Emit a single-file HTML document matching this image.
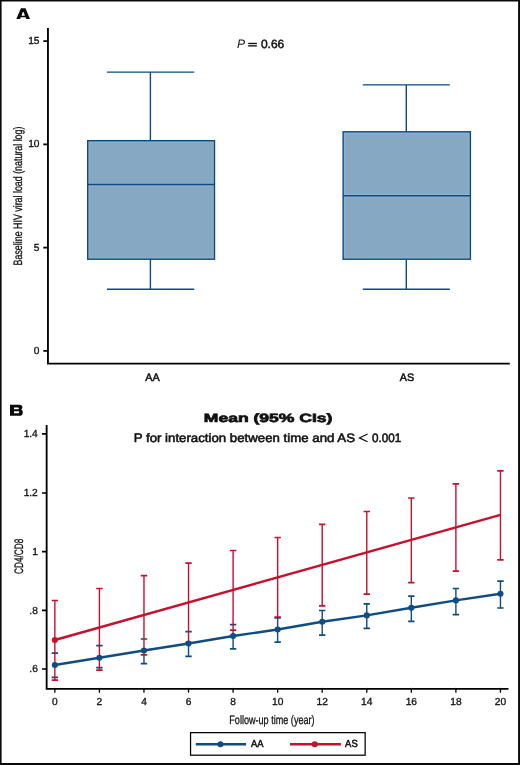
<!DOCTYPE html>
<html><head><meta charset="utf-8"><style>
html,body{margin:0;padding:0;background:#fff;}
body{width:520px;height:765px;overflow:hidden;}
svg{display:block;}
text{filter:grayscale(1);font-family:"Liberation Sans",sans-serif;fill:#111;text-rendering:geometricPrecision;}
.tk{font-size:10.2px;stroke:#111;stroke-width:0.32px;}
.sw{stroke:#111;stroke-width:0.3px;}
.hd{font-weight:bold;}
</style></head><body>
<svg width="520" height="765" viewBox="0 0 520 765">
<rect x="0" y="0" width="520" height="765" fill="#fff"/>
<path fill="#0a0a0a" fill-rule="evenodd" d="M0 0 H520 V765 H0 Z M1.6 1.55 H518.1 V763.1 H1.6 Z"/>
<!-- Panel A -->
<path fill="#0a0a0a" fill-rule="evenodd" d="M16.3 19 L20.9 8.3 L25.5 8.3 L30 19 L26.3 19 L25.6 17.2 L20.8 17.2 L20.1 19 Z M21.5 15.8 L24.9 15.8 L23.6 12.1 L22.8 12.1 Z"/>
<g stroke="#000" stroke-width="1.6" fill="none">
<path d="M47.95 28.1 V364.5 M47.05 363.65 H509.8" stroke-width="1.85"/>
<path d="M43.3 41.1 H47.8 M43.3 144.3 H47.8 M43.3 247.55 H47.8 M43.3 350.8 H47.8" stroke-width="1.7"/>
</g>
<g class="tk" text-anchor="end">
<text transform="translate(39.5,44.1)" class="tk">15</text>
<text transform="translate(39.5,147.35)" class="tk">10</text>
<text transform="translate(39.5,250.6)" class="tk">5</text>
<text transform="translate(39.5,353.9)" class="tk">0</text>
</g>
<text transform="translate(21.95,265.4) rotate(-90)" class="sw" font-size="12.3" textLength="138.8" lengthAdjust="spacingAndGlyphs">Baseline HIV viral load (natural log)</text>
<text x="152.5" y="381" text-anchor="middle" font-size="10.8" style="stroke:#111;stroke-width:0.5px">AA</text>
<text x="407" y="381" text-anchor="middle" font-size="10.8" style="stroke:#111;stroke-width:0.5px">AS</text>
<text x="237" y="48.4" font-size="12.2" font-style="italic">P</text>
<rect x="248.2" y="42.8" width="8.7" height="1.35" fill="#111"/><rect x="248.2" y="45.2" width="8.7" height="1.35" fill="#111"/>
<text x="260.9" y="48.3" font-size="12" style="stroke:#111;stroke-width:0.5px" textLength="23.4" lengthAdjust="spacingAndGlyphs">0.66</text>
<!-- boxes -->
<rect x="87.7" y="140.7" width="126.80" height="118.50" fill="#87a8c3"/>
<rect x="88.90" y="141.90" width="124.40" height="116.10" fill="none" stroke="#9ab5cb" stroke-width="0.9"/>
<path d="M88.7 183.30 H213.5 M88.7 185.70 H213.5" stroke="#9ab5cb" stroke-width="0.9" fill="none"/>
<g stroke="#0c4a83" stroke-width="1.4" fill="none">
<rect x="87.7" y="140.7" width="126.80" height="118.50"/>
<path d="M87.7 184.5 H214.5"/>
<path d="M150.4 72.15 V140.7 M106.9 72.15 H194.2 M150.4 259.2 V289.2 M106.9 289.2 H194.2"/>
</g>
<rect x="343.1" y="131.8" width="127.30" height="127.40" fill="#87a8c3"/>
<rect x="344.30" y="133.00" width="124.90" height="125.00" fill="none" stroke="#9ab5cb" stroke-width="0.9"/>
<path d="M344.1 194.50 H469.4 M344.1 196.90 H469.4" stroke="#9ab5cb" stroke-width="0.9" fill="none"/>
<g stroke="#0c4a83" stroke-width="1.4" fill="none">
<rect x="343.1" y="131.8" width="127.30" height="127.40"/>
<path d="M343.1 195.7 H470.4"/>
<path d="M406.3 84.85 V131.8 M362.8 84.85 H449.8 M406.3 259.2 V289.2 M362.8 289.2 H449.8"/>
</g>
<!-- Panel B -->
<path fill="#0a0a0a" fill-rule="evenodd" d="M10 404.8 H19.3 C21.4 404.8 22.4 405.9 22.4 407.3 C22.4 408.5 21.7 409.3 20.9 409.6 C22.1 409.9 22.8 411 22.8 412.4 C22.8 414.5 21.6 415.8 19.4 415.8 H10 Z M14 407.5 H17.9 C18.5 407.5 18.8 407.9 18.8 408.4 C18.8 408.9 18.5 409.3 17.9 409.3 H14 Z M14 411.2 H18.2 C18.9 411.2 19.2 411.6 19.2 412.2 C19.2 412.8 18.9 413.3 18.2 413.3 H14 Z"/>
<text x="203.8" y="421.8" font-size="12" font-weight="bold" style="stroke:#111;stroke-width:0.7px" textLength="128.6" lengthAdjust="spacingAndGlyphs">Mean (95% CIs)</text>
<text x="133.7" y="442.3" font-size="12.2" style="stroke:#111;stroke-width:0.55px" textLength="221.3" lengthAdjust="spacingAndGlyphs">P for interaction between time and AS</text>
<path d="M367.6 434 L359.4 437.9 L367.6 441.8" fill="none" stroke="#111" stroke-width="1.2"/>
<text x="372" y="442.3" font-size="12.2" style="stroke:#111;stroke-width:0.55px" textLength="29.2" lengthAdjust="spacingAndGlyphs">0.001</text>
<g stroke="#000" stroke-width="1.6" fill="none">
<path d="M46.65 425.1 V689.8 M45.75 688.85 H508.5" stroke-width="1.85"/>
<path d="M42 433.8 H46.5 M42 493.0 H46.5 M42 551.6 H46.5 M42 610.3 H46.5 M42 669.0 H46.5" stroke-width="1.7"/>
</g>
<g text-anchor="end">
<text transform="translate(37.8,437.05)" class="tk">1.4</text>
<text transform="translate(37.8,496.35)" class="tk">1.2</text>
<text transform="translate(37.8,554.95)" class="tk">1</text>
<text transform="translate(37.8,613.65)" class="tk">.8</text>
<text transform="translate(37.8,672.35)" class="tk">.6</text>
</g>
<text transform="translate(22.6,574) rotate(-90)" class="sw" font-size="12.3" textLength="35.3" lengthAdjust="spacingAndGlyphs">CD4/CD8</text>
<line x1="54.85" y1="688.5" x2="54.85" y2="692.2" stroke="#000" stroke-width="1.3" stroke-linecap="round"/>
<text transform="translate(54.85,705.2)" text-anchor="middle" class="tk">0</text>
<line x1="99.41" y1="688.5" x2="99.41" y2="692.2" stroke="#000" stroke-width="1.3" stroke-linecap="round"/>
<text transform="translate(99.41,705.2)" text-anchor="middle" class="tk">2</text>
<line x1="143.97" y1="688.5" x2="143.97" y2="692.2" stroke="#000" stroke-width="1.3" stroke-linecap="round"/>
<text transform="translate(143.97,705.2)" text-anchor="middle" class="tk">4</text>
<line x1="188.53" y1="688.5" x2="188.53" y2="692.2" stroke="#000" stroke-width="1.3" stroke-linecap="round"/>
<text transform="translate(188.53,705.2)" text-anchor="middle" class="tk">6</text>
<line x1="233.09" y1="688.5" x2="233.09" y2="692.2" stroke="#000" stroke-width="1.3" stroke-linecap="round"/>
<text transform="translate(233.09,705.2)" text-anchor="middle" class="tk">8</text>
<line x1="277.65" y1="688.5" x2="277.65" y2="692.2" stroke="#000" stroke-width="1.3" stroke-linecap="round"/>
<text transform="translate(277.65,705.2)" text-anchor="middle" class="tk">10</text>
<line x1="322.21" y1="688.5" x2="322.21" y2="692.2" stroke="#000" stroke-width="1.3" stroke-linecap="round"/>
<text transform="translate(322.21,705.2)" text-anchor="middle" class="tk">12</text>
<line x1="366.77" y1="688.5" x2="366.77" y2="692.2" stroke="#000" stroke-width="1.3" stroke-linecap="round"/>
<text transform="translate(366.77,705.2)" text-anchor="middle" class="tk">14</text>
<line x1="411.33" y1="688.5" x2="411.33" y2="692.2" stroke="#000" stroke-width="1.3" stroke-linecap="round"/>
<text transform="translate(411.33,705.2)" text-anchor="middle" class="tk">16</text>
<line x1="455.89" y1="688.5" x2="455.89" y2="692.2" stroke="#000" stroke-width="1.3" stroke-linecap="round"/>
<text transform="translate(455.89,705.2)" text-anchor="middle" class="tk">18</text>
<line x1="500.45" y1="688.5" x2="500.45" y2="692.2" stroke="#000" stroke-width="1.3" stroke-linecap="round"/>
<text transform="translate(500.45,705.2)" text-anchor="middle" class="tk">20</text>
<text x="229.3" y="723.8" class="sw" font-size="12.2" textLength="85.3" lengthAdjust="spacingAndGlyphs">Follow-up time (year)</text>
<path d="M51.65 653.2 H58.05 M51.65 677.3 H58.05" stroke="#0f4c81" stroke-width="1.7" fill="none"/>
<path d="M96.21 645.6 H102.61 M96.21 667.6 H102.61" stroke="#0f4c81" stroke-width="1.7" fill="none"/>
<path d="M143.97 654.8 V663.7 " stroke="#0f4c81" stroke-width="1.4" fill="none"/>
<path d="M140.77 639 H147.17 M140.77 663.7 H147.17" stroke="#0f4c81" stroke-width="1.7" fill="none"/>
<path d="M188.53 642.5 V656.3 " stroke="#0f4c81" stroke-width="1.4" fill="none"/>
<path d="M185.33 631.7 H191.73 M185.33 656.3 H191.73" stroke="#0f4c81" stroke-width="1.7" fill="none"/>
<path d="M233.09 630.2 V648.9 " stroke="#0f4c81" stroke-width="1.4" fill="none"/>
<path d="M229.89 624.6 H236.29 M229.89 648.9 H236.29" stroke="#0f4c81" stroke-width="1.7" fill="none"/>
<path d="M277.65 617.8 V642.1 " stroke="#0f4c81" stroke-width="1.4" fill="none"/>
<path d="M274.45 617.8 H280.85 M274.45 642.1 H280.85" stroke="#0f4c81" stroke-width="1.7" fill="none"/>
<path d="M322.21 610.5 V635.1 " stroke="#0f4c81" stroke-width="1.4" fill="none"/>
<path d="M319.01 610.5 H325.41 M319.01 635.1 H325.41" stroke="#0f4c81" stroke-width="1.7" fill="none"/>
<path d="M366.77 603.8 V628.4 " stroke="#0f4c81" stroke-width="1.4" fill="none"/>
<path d="M363.57 603.8 H369.97 M363.57 628.4 H369.97" stroke="#0f4c81" stroke-width="1.7" fill="none"/>
<path d="M411.33 596.2 V621.4 " stroke="#0f4c81" stroke-width="1.4" fill="none"/>
<path d="M408.13 596.2 H414.53 M408.13 621.4 H414.53" stroke="#0f4c81" stroke-width="1.7" fill="none"/>
<path d="M455.89 588.5 V614.7 " stroke="#0f4c81" stroke-width="1.4" fill="none"/>
<path d="M452.69 588.5 H459.09 M452.69 614.7 H459.09" stroke="#0f4c81" stroke-width="1.7" fill="none"/>
<path d="M500.45 581.2 V608 " stroke="#0f4c81" stroke-width="1.4" fill="none"/>
<path d="M497.25 581.2 H503.65 M497.25 608 H503.65" stroke="#0f4c81" stroke-width="1.7" fill="none"/>
<path d="M54.85 600.5 V680.2" stroke="#c8102e" stroke-width="1.4" fill="none"/>
<path d="M51.65 600.5 H58.05 M51.65 680.2 H58.05" stroke="#c8102e" stroke-width="1.7" fill="none"/>
<path d="M99.41 588.5 V670.2" stroke="#c8102e" stroke-width="1.4" fill="none"/>
<path d="M96.21 588.5 H102.61 M96.21 670.2 H102.61" stroke="#c8102e" stroke-width="1.7" fill="none"/>
<path d="M143.97 575.7 V654.8" stroke="#c8102e" stroke-width="1.4" fill="none"/>
<path d="M140.77 575.7 H147.17 M140.77 654.8 H147.17" stroke="#c8102e" stroke-width="1.7" fill="none"/>
<path d="M188.53 563.1 V642.5" stroke="#c8102e" stroke-width="1.4" fill="none"/>
<path d="M185.33 563.1 H191.73 M185.33 642.5 H191.73" stroke="#c8102e" stroke-width="1.7" fill="none"/>
<path d="M233.09 550.5 V630.2" stroke="#c8102e" stroke-width="1.4" fill="none"/>
<path d="M229.89 550.5 H236.29 M229.89 630.2 H236.29" stroke="#c8102e" stroke-width="1.7" fill="none"/>
<path d="M277.65 537.5 V617" stroke="#c8102e" stroke-width="1.4" fill="none"/>
<path d="M274.45 537.5 H280.85 M274.45 617 H280.85" stroke="#c8102e" stroke-width="1.7" fill="none"/>
<path d="M322.21 524.3 V605.8" stroke="#c8102e" stroke-width="1.4" fill="none"/>
<path d="M319.01 524.3 H325.41 M319.01 605.8 H325.41" stroke="#c8102e" stroke-width="1.7" fill="none"/>
<path d="M366.77 511.5 V594.2" stroke="#c8102e" stroke-width="1.4" fill="none"/>
<path d="M363.57 511.5 H369.97 M363.57 594.2 H369.97" stroke="#c8102e" stroke-width="1.7" fill="none"/>
<path d="M411.33 498 V582.7" stroke="#c8102e" stroke-width="1.4" fill="none"/>
<path d="M408.13 498 H414.53 M408.13 582.7 H414.53" stroke="#c8102e" stroke-width="1.7" fill="none"/>
<path d="M455.89 483.8 V571.2" stroke="#c8102e" stroke-width="1.4" fill="none"/>
<path d="M452.69 483.8 H459.09 M452.69 571.2 H459.09" stroke="#c8102e" stroke-width="1.7" fill="none"/>
<path d="M500.45 470.9 V559.8" stroke="#c8102e" stroke-width="1.4" fill="none"/>
<path d="M497.25 470.9 H503.65 M497.25 559.8 H503.65" stroke="#c8102e" stroke-width="1.7" fill="none"/>
<line x1="54.85" y1="640" x2="500.45" y2="514.8" stroke="#c8102e" stroke-width="2.4"/>
<polyline points="54.85,665 99.41,657.8 143.97,650.5 188.53,643.5 233.09,636 277.65,629.5 322.21,621.8 366.77,615.4 411.33,607.7 455.89,600.4 500.45,593.8" stroke="#0f4c81" stroke-width="2.4" fill="none"/>
<circle cx="54.85" cy="665" r="3.05" fill="#0f4c81"/>
<circle cx="99.41" cy="657.8" r="3.05" fill="#0f4c81"/>
<circle cx="143.97" cy="650.5" r="3.05" fill="#0f4c81"/>
<circle cx="188.53" cy="643.5" r="3.05" fill="#0f4c81"/>
<circle cx="233.09" cy="636" r="3.05" fill="#0f4c81"/>
<circle cx="277.65" cy="629.5" r="3.05" fill="#0f4c81"/>
<circle cx="322.21" cy="621.8" r="3.05" fill="#0f4c81"/>
<circle cx="366.77" cy="615.4" r="3.05" fill="#0f4c81"/>
<circle cx="411.33" cy="607.7" r="3.05" fill="#0f4c81"/>
<circle cx="455.89" cy="600.4" r="3.05" fill="#0f4c81"/>
<circle cx="500.45" cy="593.8" r="3.05" fill="#0f4c81"/>
<circle cx="54.85" cy="640" r="3.05" fill="#c8102e"/>
<!-- legend -->
<rect x="190.55" y="732.65" width="174.6" height="22.55" fill="none" stroke="#000" stroke-width="1.25"/>
<line x1="195.8" y1="744.2" x2="246.1" y2="744.2" stroke="#0f4c81" stroke-width="2.4"/>
<circle cx="220.4" cy="744.2" r="3.05" fill="#0f4c81"/>
<text x="251.1" y="747.3" font-size="10.3" style="stroke:#111;stroke-width:0.55px" textLength="12.5" lengthAdjust="spacingAndGlyphs">AA</text>
<line x1="290" y1="744.2" x2="340.9" y2="744.2" stroke="#c8102e" stroke-width="2.4"/>
<circle cx="314.7" cy="744.2" r="3.05" fill="#c8102e"/>
<text x="345.1" y="747.3" font-size="10.3" style="stroke:#111;stroke-width:0.55px" textLength="12.6" lengthAdjust="spacingAndGlyphs">AS</text>
</svg>
</body></html>
